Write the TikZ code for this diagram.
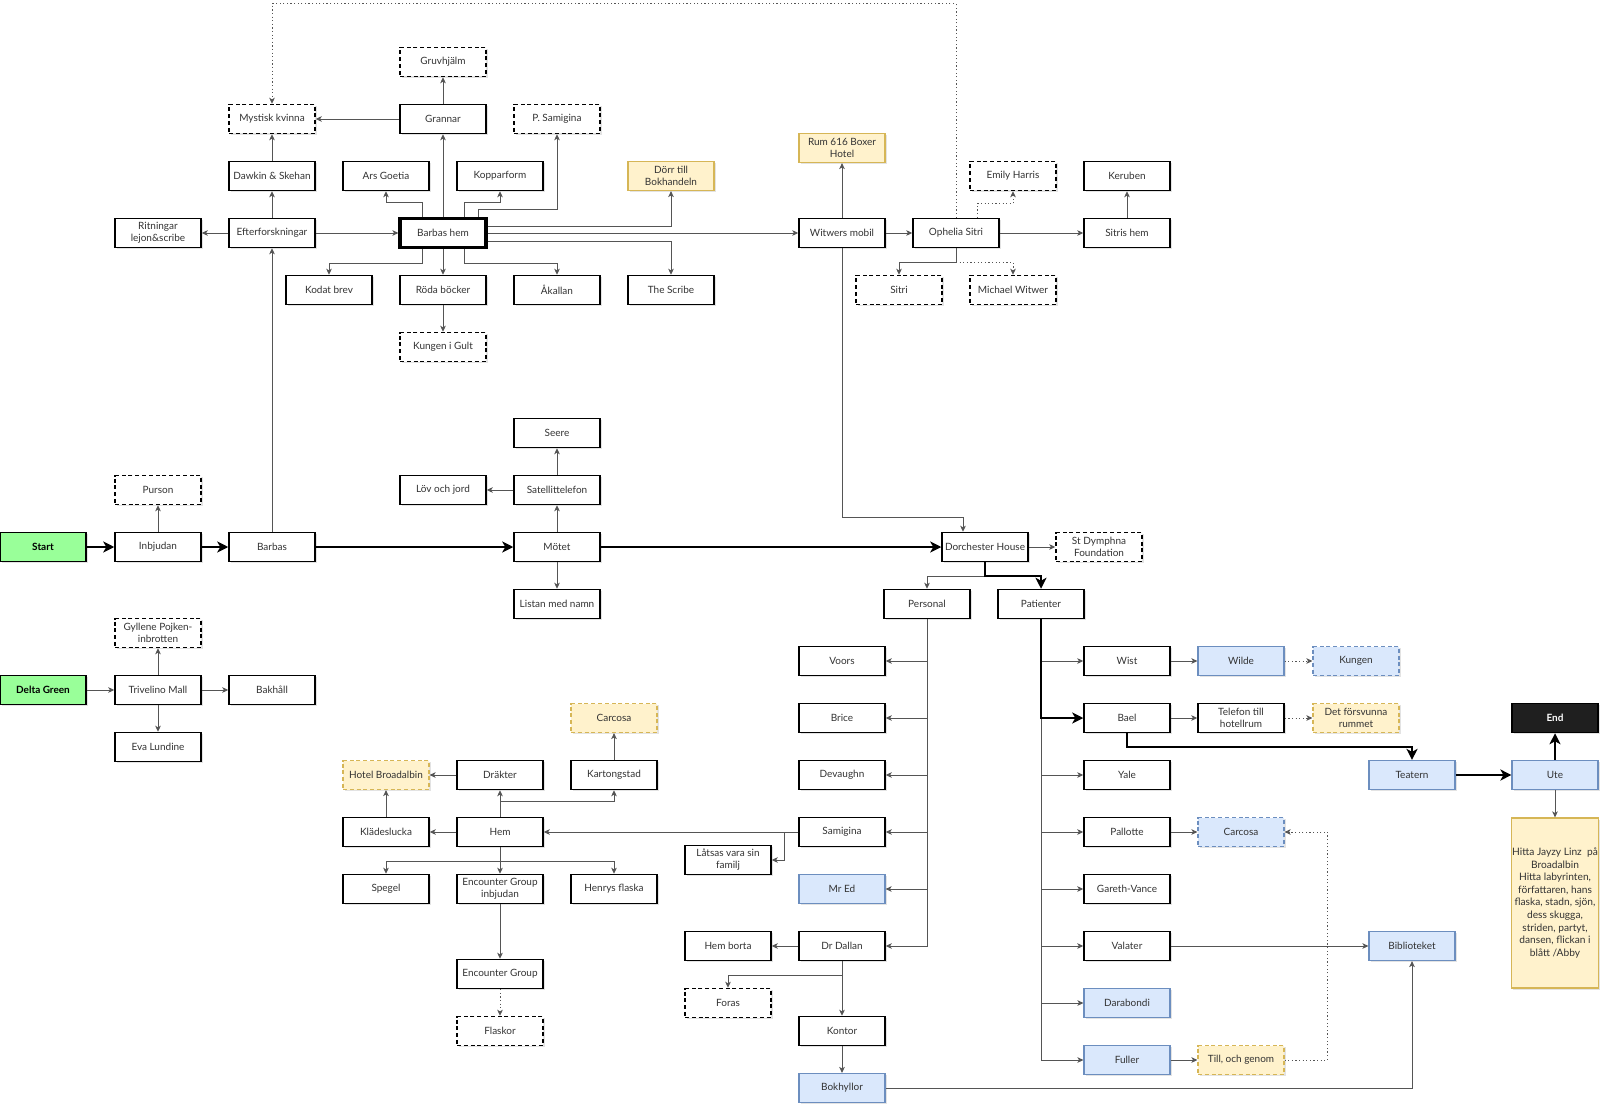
\documentclass[tikz,border=0pt]{standalone}
\usepackage{fontspec}
\setmainfont{Lato}
\usetikzlibrary{arrows.meta,calc,shadows}
\definecolor{gfill}{HTML}{99FF99}
\definecolor{bfill}{HTML}{DAE8FC}
\definecolor{bline}{HTML}{6C8EBF}
\definecolor{yfill}{HTML}{FFF2CC}
\definecolor{yline}{HTML}{D6B656}
\definecolor{txt}{HTML}{333333}
\definecolor{conn}{HTML}{555555}
\begin{document}
\begin{tikzpicture}[x=0.5pt,y=-0.5pt,
  base/.style={rectangle, minimum width=43pt, minimum height=14.5pt, inner sep=0.5pt, align=center,
    font=\fontsize{5}{6}\selectfont, text=txt,
    drop shadow={shadow xshift=0.9pt,shadow yshift=-0.9pt,opacity=0.22}},
  box/.style={base, draw=black, line width=0.75pt, fill=white},
  dbox/.style={box, dash pattern=on 2pt off 1.4pt},
  thbox/.style={box, line width=1.6pt},
  bbox/.style={base, draw=bline, line width=0.6pt, fill=bfill},
  bdbox/.style={bbox, dash pattern=on 2pt off 1.4pt},
  ybox/.style={base, draw=yline, line width=0.6pt, fill=yfill},
  ydbox/.style={ybox, dash pattern=on 2pt off 1.4pt},
  gbox/.style={base, draw=black, line width=0.75pt, fill=gfill, text=black, font=\fontsize{5}{6}\selectfont\bfseries},
  ebox/.style={base, draw=black, line width=0.75pt, fill=black!88, text=white, font=\fontsize{5}{6}\selectfont\bfseries},
  arr/.style={draw=conn, line width=0.45pt, -{Stealth[length=3pt,width=2.8pt,inset=0.8pt]}},
  dotarr/.style={arr, dash pattern=on 0.6pt off 1.2pt},
  tarr/.style={draw=black, line width=1.2pt, -{Stealth[length=5.5pt,width=5.5pt,inset=1.5pt]}},
]
\fill[white] (0,0) rectangle (1600,1107);
\useasboundingbox (0,0) rectangle (1600,1107);

% ---------- top area ----------
\node[dbox] (gruv) at (443,62) {Gruvhjälm};
\node[dbox] (myst) at (272,119) {Mystisk kvinna};
\node[box] (gran) at (443,119) {Grannar};
\node[dbox] (psam) at (557,119) {P. Samigina};
\node[box] (dawk) at (272,176) {Dawkin \& Skehan};
\node[box] (ars) at (386,176) {Ars Goetia};
\node[box] (kopp) at (500,176) {Kopparform};
\node[ybox] (dorr) at (671,176) {Dörr till\\Bokhandeln};
\node[ybox] (rum) at (842,148) {Rum 616 Boxer\\Hotel};
\node[dbox] (emily) at (1013,176) {Emily Harris};
\node[box] (kerub) at (1127,176) {Keruben};
\node[box] (rit) at (158,233) {Ritningar\\lejon\&scribe};
\node[box] (efter) at (272,233) {Efterforskningar};
\node[thbox] (bh) at (443,233) {Barbas hem};
\node[box] (wit) at (842,233) {Witwers mobil};
\node[box] (oph) at (956,233) {Ophelia Sitri};
\node[box] (sitrish) at (1127,233) {Sitris hem};
\node[box] (kodat) at (329,290) {Kodat brev};
\node[box] (roda) at (443,290) {Röda böcker};
\node[box] (akall) at (557,290) {Åkallan};
\node[box] (scribe) at (671,290) {The Scribe};
\node[dbox] (sitri) at (899,290) {Sitri};
\node[dbox] (mich) at (1013,290) {Michael Witwer};
\node[dbox] (kig) at (443,347) {Kungen i Gult};

% ---------- middle ----------
\node[box] (seere) at (557,433) {Seere};
\node[dbox] (purson) at (158,490) {Purson};
\node[box] (lov) at (443,490) {Löv och jord};
\node[box] (sat) at (557,490) {Satellittelefon};
\node[gbox] (start) at (43,547) {Start};
\node[box] (inb) at (158,547) {Inbjudan};
\node[box] (barbas) at (272,547) {Barbas};
\node[box] (motet) at (557,547) {Mötet};
\node[box] (dorch) at (985,547) {Dorchester House};
\node[dbox] (stdym) at (1099,547) {St Dymphna\\Foundation};
\node[box] (listan) at (557,604) {Listan med namn};
\node[box] (pers) at (927,604) {Personal};
\node[box] (pat) at (1041,604) {Patienter};
\node[dbox] (gyll) at (158,633) {Gyllene Pojken-\\inbrotten};
\node[gbox] (delta) at (43,690) {Delta Green};
\node[box] (triv) at (158,690) {Trivelino Mall};
\node[box] (bakh) at (272,690) {Bakhåll};
\node[box] (eva) at (158,747) {Eva Lundine};

% ---------- bottom ----------
\node[box] (voors) at (842,661) {Voors};
\node[box] (brice) at (842,718) {Brice};
\node[box] (devau) at (842,775) {Devaughn};
\node[box] (samig) at (842,832) {Samigina};
\node[bbox] (mred) at (842,889) {Mr Ed};
\node[box] (dall) at (842,946) {Dr Dallan};
\node[box] (kontor) at (842,1031) {Kontor};
\node[bbox] (bokh) at (842,1088) {Bokhyllor};
\node[box] (wist) at (1127,661) {Wist};
\node[bbox] (wilde) at (1241,661) {Wilde};
\node[bdbox] (kungen) at (1356,661) {Kungen};
\node[box] (bael) at (1127,718) {Bael};
\node[box] (tel) at (1241,718) {Telefon till\\hotellrum};
\node[ydbox] (detf) at (1356,718) {Det försvunna\\rummet};
\node[ebox] (end) at (1555,718) {End};
\node[bbox] (teat) at (1412,775) {Teatern};
\node[bbox] (ute) at (1555,775) {Ute};
\node[box] (yale) at (1127,775) {Yale};
\node[box] (pall) at (1127,832) {Pallotte};
\node[bdbox] (carb) at (1241,832) {Carcosa};
\node[box] (gar) at (1127,889) {Gareth-Vance};
\node[box] (val) at (1127,946) {Valater};
\node[bbox] (bibl) at (1412,946) {Biblioteket};
\node[bbox] (dara) at (1127,1003) {Darabondi};
\node[bbox] (full) at (1127,1060) {Fuller};
\node[ydbox] (till) at (1241,1060) {Till, och genom};
\node[ybox, minimum height=85pt, font=\fontsize{5.1}{6.3}\selectfont] (note) at (1555,903) {Hitta Jayzy Linz\ \ på\\Broadalbin\\Hitta labyrinten,\\författaren, hans\\flaska, stadn, sjön,\\dess skugga,\\striden, partyt,\\dansen, flickan i\\blått /Abby};
\node[ydbox] (carcy) at (614,718) {Carcosa};
\node[ydbox] (hotel) at (386,775) {Hotel Broadalbin};
\node[box] (drak) at (500,775) {Dräkter};
\node[box] (kart) at (614,775) {Kartongstad};
\node[box] (klad) at (386,832) {Klädeslucka};
\node[box] (hem) at (500,832) {Hem};
\node[box] (spegel) at (386,889) {Spegel};
\node[box] (encinb) at (500,889) {Encounter Group\\inbjudan};
\node[box] (henry) at (614,889) {Henrys flaska};
\node[box] (enc) at (500,974) {Encounter Group};
\node[dbox] (flask) at (500,1031) {Flaskor};
\node[box] (lats) at (728,860) {Låtsas vara sin\\familj};
\node[box] (hemb) at (728,946) {Hem borta};
\node[dbox] (foras) at (728,1003) {Foras};

% ---------- connectors: top ----------
\draw[arr] (inb) -- (purson);
\draw[arr] (barbas) -- (efter);
\draw[arr] (efter) -- (rit);
\draw[arr] (efter) -- (dawk);
\draw[arr] (efter) -- (bh);
\draw[arr] (dawk) -- (myst);
\draw[arr] (gran) -- (myst);
\draw[arr] (gran) -- (gruv);
\draw[arr] (bh) -- (gran);
\draw[arr] ($(bh.north)+(-21,0)$) -- ++(0,-14) -| (ars.south);
\draw[arr] ($(bh.north)+(21,0)$) -- ++(0,-14) -| (kopp.south);
\draw[arr] ($(bh.north)+(35,0)$) -- ++(0,-7) -| (psam.south);
\draw[arr] ($(bh.east)+(0,-7)$) -| (dorr.south);
\draw[arr] (bh) -- (wit);
\draw[arr] ($(bh.east)+(0,8)$) -| (scribe.north);
\draw[arr] ($(bh.south)+(-21,0)$) -- ++(0,14) -| (kodat.north);
\draw[arr] (bh) -- (roda);
\draw[arr] ($(bh.south)+(21,0)$) -- ++(0,14) -| (akall.north);
\draw[arr] (roda) -- (kig);
\draw[arr] (wit) -- (rum);
\draw[arr] (wit) -- (oph);
\draw[arr] (oph) -- (sitrish);
\draw[arr] (sitrish) -- (kerub);
\draw[dotarr] ($(oph.north)+(21,0)$) -- ++(0,-14) -| (emily.south);
\draw[arr] (oph.south) -- ++(0,14) -| (sitri.north);
\draw[dotarr] ($(oph.south)+(0,14)$) -| (mich.north);
\draw[dotarr] (oph.north) |- ($(myst.north)+(0,-100)$) -- (myst.north);
\draw[arr] (wit.south) |- ($(dorch.north)+(-22,-14)$) -- ($(dorch.north)+(-22,0)$);

% ---------- connectors: middle ----------
\draw[arr] (motet) -- (sat);
\draw[arr] (sat) -- (seere);
\draw[arr] (sat) -- (lov);
\draw[arr] (motet) -- (listan);
\draw[arr] (delta) -- (triv);
\draw[arr] (triv) -- (gyll);
\draw[arr] (triv) -- (bakh);
\draw[arr] (triv) -- (eva);
\draw[arr] (dorch) -- (stdym);
\draw[arr] (dorch.south) -- ++(0,14) -| (pers.north);

% ---------- connectors: bottom ----------
\foreach \n in {voors,brice,devau,samig,mred,dall}
  \draw[arr] (pers.south) |- (\n.east);
\foreach \n in {wist,yale,pall,gar,val,dara,full}
  \draw[arr] (pat.south) |- (\n.west);
\draw[arr] (wist) -- (wilde);
\draw[dotarr] (wilde) -- (kungen);
\draw[arr] (bael) -- (tel);
\draw[dotarr] (tel) -- (detf);
\draw[arr] (ute) -- (note);
\draw[arr] (pall) -- (carb);
\draw[arr] (val) -- (bibl);
\draw[arr] (full) -- (till);
\draw[dotarr] (till.east) -- ++(43,0) |- (carb.east);
\draw[arr] (bokh.east) -| (bibl.south);
\draw[arr] (samig.west) -- (hem.east);
\draw[arr] (samig.west) -- ++(-14,0) |- (lats.east);
\draw[arr] (dall) -- (hemb);
\draw[arr] (dall.south) -- ++(0,14) -| (foras.north);
\draw[arr] (dall) -- (kontor);
\draw[arr] (kontor) -- (bokh);
\draw[arr] (hem) -- (drak);
\draw[arr] (hem.north) -- ++(0,-15) -| (kart.south);
\draw[arr] (drak) -- (hotel);
\draw[arr] (kart) -- (carcy);
\draw[arr] (hem) -- (klad);
\draw[arr] (klad) -- (hotel);
\draw[arr] (hem.south) -- ++(0,14) -| (spegel.north);
\draw[arr] (hem) -- (encinb);
\draw[arr] (hem.south) -- ++(0,14) -| (henry.north);
\draw[arr] (encinb) -- (enc);
\draw[dotarr] (enc) -- (flask);

% ---------- thick main flow ----------
\draw[tarr] (start) -- (inb);
\draw[tarr] (inb) -- (barbas);
\draw[tarr] (barbas) -- (motet);
\draw[tarr] (motet) -- (dorch);
\draw[tarr] (dorch.south) -- ++(0,14) -| (pat.north);
\draw[tarr] (pat.south) |- (bael.west);
\draw[tarr] (bael.south) -- ++(0,14) -| (teat.north);
\draw[tarr] (teat) -- (ute);
\draw[tarr] (ute) -- (end);
\end{tikzpicture}
\end{document}
